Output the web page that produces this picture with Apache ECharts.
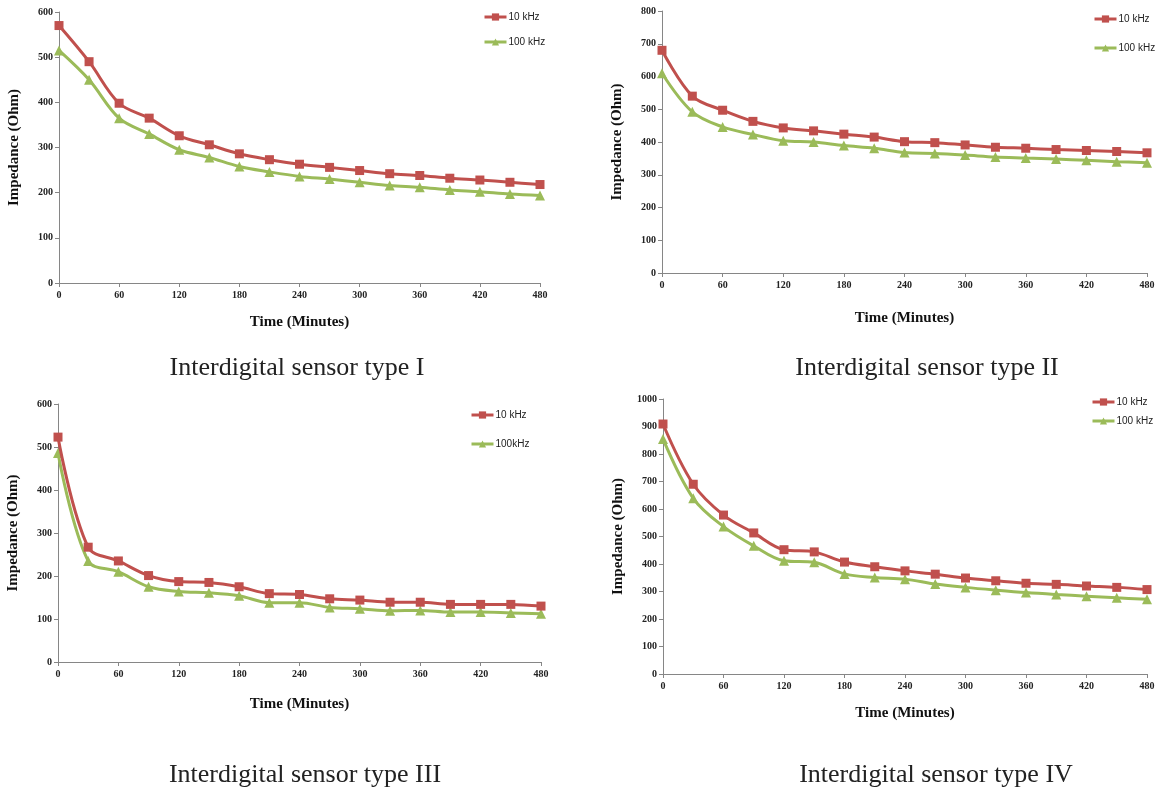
<!DOCTYPE html>
<html>
<head>
<meta charset="utf-8">
<script src="https://cdn.jsdelivr.net/npm/echarts@6/dist/echarts.min.js"></script>
<style>
html,body{margin:0;padding:0;background:#fff;}
#chart{width:1162px;height:793px;}
</style>
</head>
<body>
<div id="chart"></div>
<script>
// Time axis (minutes)
const timeMinutes = [0,30,60,90,120,150,180,210,240,270,300,330,360,390,420,450,480];
const xTickInterval = 60;

// Sensor type I
const typeI_10k  = [570,490,398,365,326,306,286,273,263,256,249,242,238,232,228,223,218];
const typeI_100k = [515,450,365,330,295,278,258,246,236,230,223,216,212,206,202,197,194];
// Sensor type II
const typeII_10k  = [680,540,497,463,443,434,424,415,401,398,391,384,381,377,374,371,367];
const typeII_100k = [610,492,446,423,404,400,389,381,368,365,360,354,351,348,344,340,337];
// Sensor type III
const typeIII_10k  = [523,267,235,201,187,185,175,159,157,147,144,139,139,134,134,134,130];
const typeIII_100k = [486,235,210,175,164,161,154,138,138,127,124,119,120,116,116,114,112];
// Sensor type IV
const typeIV_10k  = [909,690,578,513,452,444,407,390,375,363,349,339,330,326,320,315,307];
const typeIV_100k = [855,639,536,466,412,406,364,351,345,327,315,305,296,289,283,277,272];

const yMax = [600, 800, 600, 1000];
const yInterval = 100;
const captions = ['Interdigital sensor type I','Interdigital sensor type II','Interdigital sensor type III','Interdigital sensor type IV'];
const legendNames = [['10 kHz','100 kHz'],['10 kHz','100 kHz'],['10 kHz','100kHz'],['10 kHz','100 kHz']];
const xTitle = 'Time (Minutes)';
const yTitle = 'Impedance (Ohm)';

const seriesSets = [
  [typeI_10k, typeI_100k],
  [typeII_10k, typeII_100k],
  [typeIII_10k, typeIII_100k],
  [typeIV_10k, typeIV_100k]
];

const RED = '#C0504D', GREEN = '#9BBB59', AXIS = '#868686';
const grids = [
  {left:59, top:12, width:481, height:271},
  {left:662, top:11, width:485, height:262},
  {left:58, top:404, width:483, height:258},
  {left:663, top:399, width:484, height:275}
];
const xNameGaps = [32, 38, 35, 32];
const legendPos = [
  {left:478, top:7, itemGap:15},
  {left:1088, top:9, itemGap:19},
  {left:465, top:405, itemGap:19},
  {left:1086, top:392, itemGap:9}
];
const captionPos = [[297,368],[927,368],[305,775],[936,775]];

const tickLabel = {fontFamily:'Liberation Serif', fontSize:10, fontWeight:'bold', color:'#222'};
const axisName = {fontFamily:'Liberation Serif', fontSize:15, fontWeight:'bold', color:'#111'};

const xAxis = [], yAxis = [], series = [], legend = [], graphic = [];
grids.forEach((g, i) => {
  xAxis.push({
    type:'value', gridIndex:i, min:0, max:480, interval:xTickInterval,
    name:xTitle, nameLocation:'middle', nameGap:xNameGaps[i], nameTextStyle:axisName,
    axisLine:{show:true, onZero:false, lineStyle:{color:AXIS, width:1}},
    axisTick:{show:true, length:4, lineStyle:{color:AXIS}},
    axisLabel:Object.assign({margin:7, formatter:v => String(v)}, tickLabel),
    splitLine:{show:false}
  });
  yAxis.push({
    type:'value', gridIndex:i, min:0, max:yMax[i], interval:yInterval,
    name:yTitle, nameLocation:'middle', nameGap:37, nameTextStyle:axisName,
    axisLine:{show:true, lineStyle:{color:AXIS, width:1}},
    axisTick:{show:true, length:4, lineStyle:{color:AXIS}},
    axisLabel:Object.assign({margin:6, formatter:v => String(v)}, tickLabel),
    splitLine:{show:false}
  });
  const [s10, s100] = seriesSets[i];
  series.push({
    type:'line', name:legendNames[i][0], xAxisIndex:i, yAxisIndex:i,
    data: timeMinutes.map((t,k)=>[t, s10[k]]),
    smooth:0.35, symbol:'rect', symbolSize:9, showSymbol:true,
    lineStyle:{color:RED, width:3}, itemStyle:{color:RED}, z:3
  });
  series.push({
    type:'line', name:legendNames[i][1], xAxisIndex:i, yAxisIndex:i,
    data: timeMinutes.map((t,k)=>[t, s100[k]]),
    smooth:0.35, symbol:'triangle', symbolSize:10, showSymbol:true,
    lineStyle:{color:GREEN, width:3}, itemStyle:{color:GREEN}, z:2
  });
  legend.push(Object.assign({
    orient:'vertical', data:legendNames[i], itemWidth:22, itemHeight:9,
    selectedMode:false, lineStyle:{width:3},
    textStyle:{fontFamily:'Liberation Sans', fontSize:10, color:'#222', padding:[0,0,0,-3]}
  }, legendPos[i]));
  graphic.push({
    type:'text', x:captionPos[i][0], y:captionPos[i][1],
    style:{text:captions[i], fontFamily:'Liberation Serif', fontSize:26, fill:'#222',
      align:'center', verticalAlign:'middle'}
  });
});

const chart = echarts.init(document.getElementById('chart'), null, {renderer:'canvas'});
chart.setOption({
  animation:false,
  backgroundColor:'#fff',
  grid:grids, xAxis, yAxis, series, legend, graphic
});
</script>
</body>
</html>
